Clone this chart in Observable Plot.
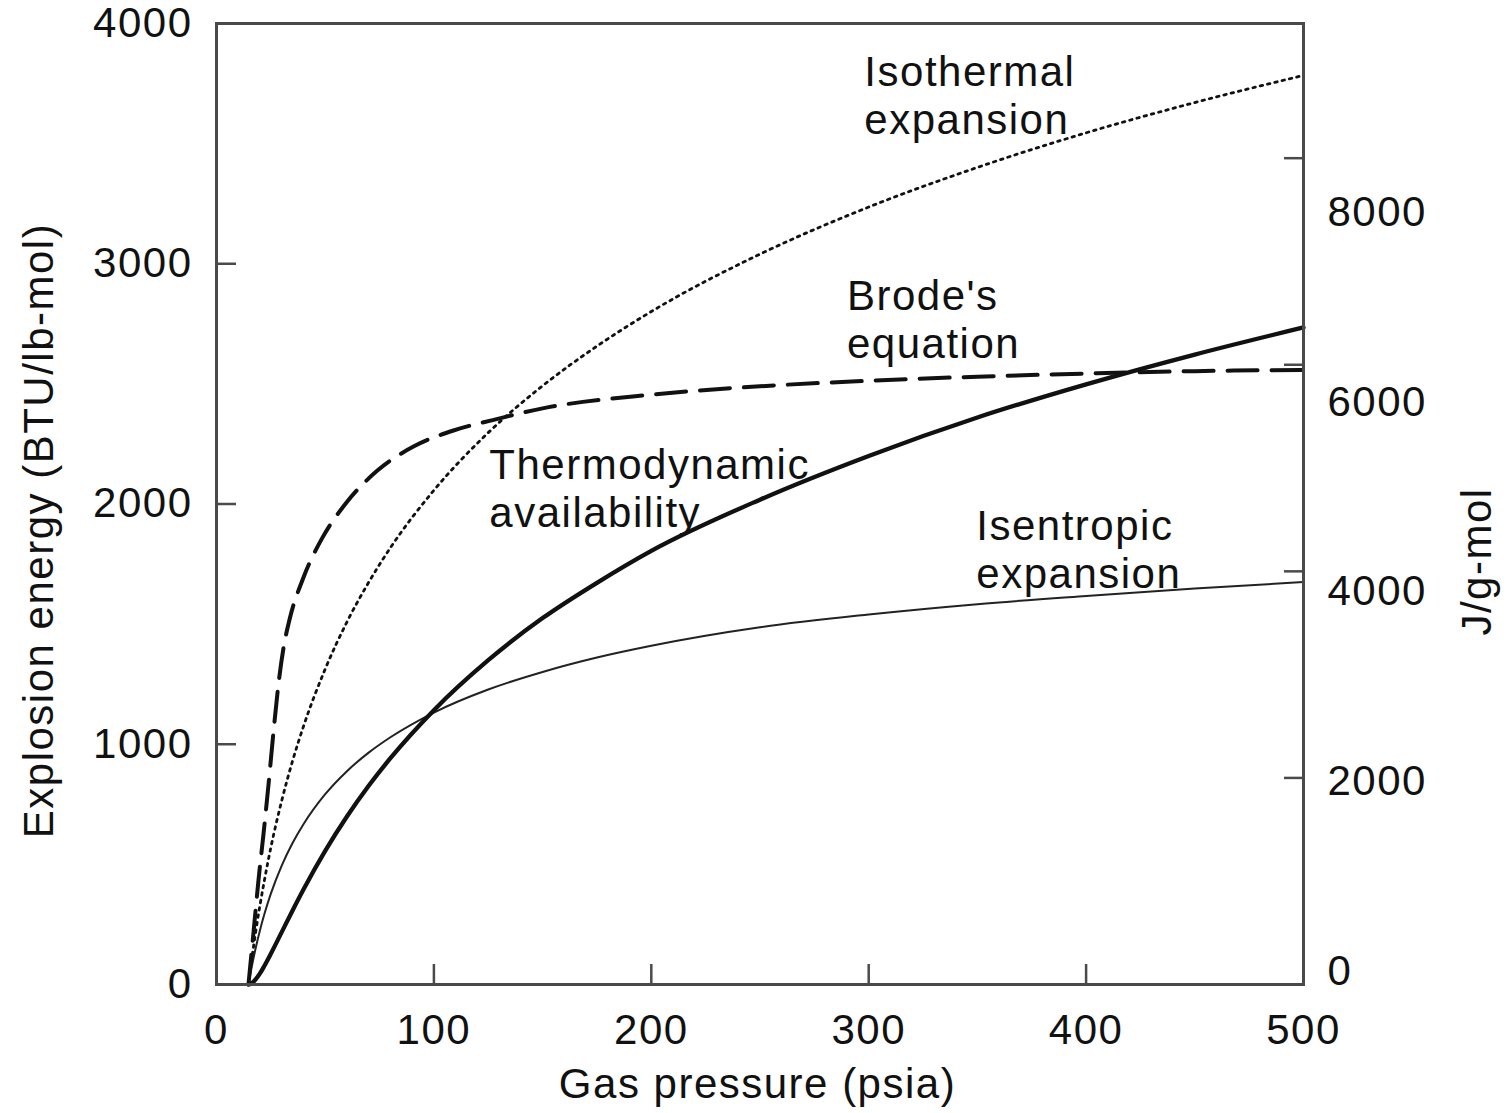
<!DOCTYPE html>
<html>
<head>
<meta charset="utf-8">
<script src="https://cdn.jsdelivr.net/npm/d3@7"></script>
<script src="https://cdn.jsdelivr.net/npm/@observablehq/plot@0.6"></script>
<style>
html, body { margin: 0; padding: 0; background: #fff; }
</style>
</head>
<body>
<div id="chart"></div>
<script>
// ---- data ----
// gas pressure, psia
const pressure = [14.7, 16, 17, 18, 20, 22, 25, 30, 35, 40, 50, 60, 70, 80, 100, 125, 150, 175, 200, 250, 300, 350, 400, 450, 500];
// explosion energy, BTU/lb-mol
const isothermal   = [0, 91, 156, 217, 330, 432, 570, 765, 931, 1074, 1313, 1509, 1674, 1818, 2057, 2297, 2492, 2657, 2801, 3040, 3236, 3401, 3545, 3671, 3784];
const isentropic   = [0, 64, 109, 151, 226, 292, 378, 495, 589, 667, 792, 888, 965, 1029, 1132, 1228, 1301, 1361, 1410, 1487, 1540, 1583, 1617, 1648, 1675];
const availability = [0, 4, 11, 21, 46, 77, 128, 218, 308, 395, 556, 699, 827, 942, 1142, 1350, 1525, 1672, 1805, 2018, 2200, 2360, 2498, 2622, 2735];
const brodePressure = [14.7, 17, 19.3, 21.6, 23.9, 26.2, 28.5, 30.8, 33.6, 40, 48.8, 59.8, 74, 90.6, 109, 126.5, 150, 200, 250, 300, 350, 400, 450, 500];
const brode         = [0, 215, 433, 625, 830, 1050, 1250, 1400, 1519, 1694, 1861, 2006, 2139, 2239, 2306, 2348, 2398, 2455, 2490, 2513, 2530, 2543, 2553, 2558];

// axes
const xTicks = [0, 100, 200, 300, 400, 500];
const xInnerTicks = [100, 200, 300, 400];
const yTicks = [0, 1000, 2000, 3000, 4000];
const yInnerTicks = [1000, 2000, 3000];
const jTicks = [0, 2000, 4000, 6000, 8000];          // J/g-mol
const J_PER_BTU = 2.326;                              // 1 BTU/lb-mol = 2.326 J/g-mol
const J_LABEL_FACTOR = 2.532;                         // printed labels in the source sit on a slightly compressed scale

// curve annotations
const labelText = ["Isothermal\nexpansion", "Brode's\nequation", "Thermodynamic\navailability", "Isentropic\nexpansion"];
const labelP = [298, 290, 125.5, 349.5];
const labelE = [3883, 2949, 2244, 1990];

const xTitle = ["Gas pressure (psia)"];
const yTitle = ["Explosion energy (BTU/lb-mol)"];
const y2Title = ["J/g-mol"];

// ---- build ----
const rows = (ps, es) => ps.map((p, i) => ({p, e: es[i]}));
const labels = labelText.map((t, i) => ({t, p: labelP[i], e: labelE[i]}));
const jLabelAt = new Map(jTicks.map(j => [j / J_LABEL_FACTOR, String(j)]));
const ink = "#111";
const axisInk = "#4a4a4a";

const chart = Plot.plot({
  width: 1509,
  height: 1113,
  marginLeft: 216,
  marginRight: 206,
  marginTop: 23,
  marginBottom: 129,
  x: {domain: [0, 500]},
  y: {domain: [0, 4000]},
  style: {
    fontFamily: "'Liberation Sans', Arial, Helvetica, sans-serif",
    fontSize: "42px",
    letterSpacing: "1.5px",
    color: ink,
    background: "#fff",
    overflow: "visible"
  },
  marks: [
    Plot.line(rows(pressure, isentropic), {x: "p", y: "e", stroke: "#222", strokeWidth: 2, curve: "monotone-x"}),
    Plot.line(rows(pressure, availability), {x: "p", y: "e", stroke: ink, strokeWidth: 4.3, curve: "monotone-x"}),
    Plot.line(rows(pressure, isothermal), {x: "p", y: "e", stroke: ink, strokeWidth: 2.8, strokeDasharray: "2.5,5", curve: "monotone-x"}),
    Plot.line(rows(brodePressure, brode), {x: "p", y: "e", stroke: ink, strokeWidth: 4, strokeDasharray: "30,14", curve: "monotone-x"}),
    Plot.frame({stroke: axisInk, strokeWidth: 3}),
    // inward tick marks
    Plot.axisX({ticks: xInnerTicks, tickSize: -20, text: null, label: null, stroke: axisInk, strokeWidth: 2.5}),
    Plot.axisY({ticks: yInnerTicks, tickSize: -20, text: null, label: null, stroke: axisInk, strokeWidth: 2.5}),
    Plot.axisY({anchor: "right", ticks: jTicks.slice(1).map(j => j / J_PER_BTU), tickSize: -20, text: null, label: null, stroke: axisInk, strokeWidth: 2.5}),
    // tick labels
    Plot.axisX({ticks: xTicks, tickSize: 0, tickPadding: 30, tickFormat: d => String(d), label: null, fill: ink}),
    Plot.axisY({ticks: yTicks, tickSize: 0, tickPadding: 24, tickFormat: d => String(d), label: null, fill: ink}),
    Plot.axisY({anchor: "right", ticks: [...jLabelAt.keys()], tickSize: 0, tickPadding: 24, dy: -13, tickFormat: d => jLabelAt.get(d), label: null, fill: ink}),
    // axis titles
    Plot.text(xTitle, {frameAnchor: "bottom", text: d => d, textAnchor: "middle", dx: -2.5, dy: 99.6, lineAnchor: "middle", fill: ink}),
    Plot.text(yTitle, {frameAnchor: "left", text: d => d, textAnchor: "middle", rotate: -90, dx: -177.4, dy: 26.5, lineAnchor: "middle", fill: ink}),
    Plot.text(y2Title, {frameAnchor: "right", text: d => d, textAnchor: "middle", rotate: -90, dx: 173.6, dy: 57.5, lineAnchor: "middle", fill: ink}),
    // curve annotations
    Plot.text(labels, {x: "p", y: "e", text: "t", textAnchor: "start", lineAnchor: "top", lineHeight: 1.143, fill: ink})
  ]
});
document.getElementById("chart").appendChild(chart);
</script>
</body>
</html>
